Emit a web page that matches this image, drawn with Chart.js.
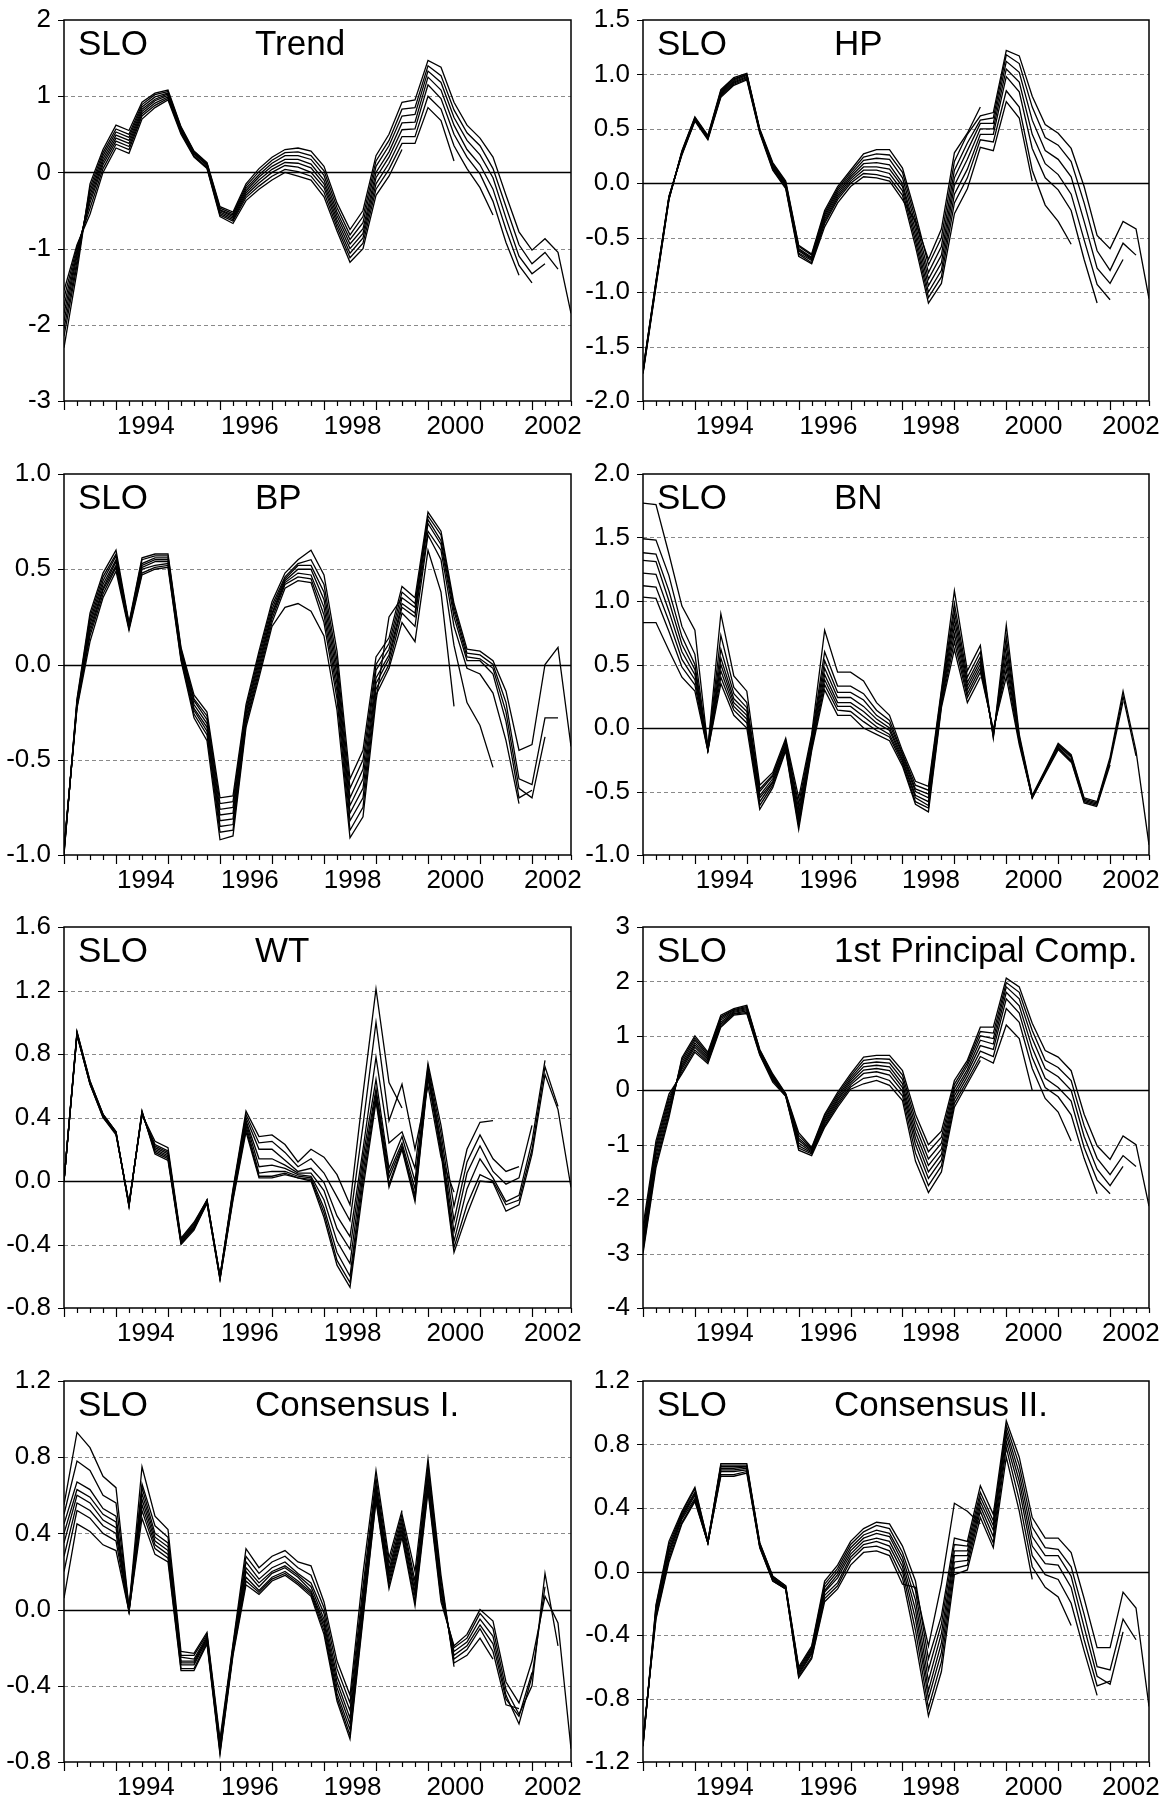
<!DOCTYPE html>
<html lang="en">
<head>
<meta charset="UTF-8">
<title>SLO - real-time output gap estimates</title>
<script src="https://cdn.jsdelivr.net/npm/chart.js@4"></script>
<style>
  * { margin: 0; padding: 0; box-sizing: border-box; }
  body { background: #fff; width: 1170px; height: 1798px; position: relative; overflow: hidden; }
  canvas { position: absolute; }
</style>
</head>
<body>
<script>
// x axis: quarters 1993Q1 .. 2002Q4 (index 0..39), year labels sit mid-year
const yearTickPos = [6.3, 14.3, 22.2, 30.1, 37.6];
const yearTickText = ['1994', '1996', '1998', '2000', '2002'];

// y tick values per panel
const trendTicks = [-3, -2, -1, 0, 1, 2];
const hpTicks = [-2, -1.5, -1, -0.5, 0, 0.5, 1, 1.5];
const bpTicks = [-1, -0.5, 0, 0.5, 1];
const bnTicks = [-1, -0.5, 0, 0.5, 1, 1.5, 2];
const wtTicks = [-0.8, -0.4, 0, 0.4, 0.8, 1.2, 1.6];
const pcTicks = [-4, -3, -2, -1, 0, 1, 2, 3];
const c1Ticks = [-0.8, -0.4, 0, 0.4, 0.8, 1.2];
const c2Ticks = [-1.2, -0.8, -0.4, 0, 0.4, 0.8, 1.2];

// vintages, named by last quarter of the sample they were estimated on
// Trend
const trend02q4 = [-2.3,-1.3,-0.15,0.3,0.62,0.55,0.92,1.04,1.08,0.6,0.28,0.13,-0.45,-0.52,-0.15,0.05,0.2,0.3,0.32,0.28,0.08,-0.4,-0.75,-0.5,0.22,0.5,0.92,0.95,1.47,1.38,0.92,0.62,0.45,0.2,-0.3,-0.78,-1.02,-0.87,-1.05,-1.85];
const trend02q3 = [-2.15,-1.22,-0.2,0.26,0.57,0.5,0.89,1.02,1.06,0.59,0.27,0.12,-0.47,-0.54,-0.18,0.01,0.16,0.26,0.27,0.22,0.02,-0.46,-0.82,-0.58,0.15,0.42,0.83,0.85,1.4,1.27,0.82,0.52,0.35,0.05,-0.45,-0.95,-1.2,-1.05,-1.27];
const trend02q2 = [-2.05,-1.16,-0.25,0.22,0.53,0.46,0.86,0.99,1.04,0.57,0.26,0.11,-0.49,-0.56,-0.21,-0.03,0.12,0.22,0.22,0.17,-0.04,-0.52,-0.88,-0.66,0.08,0.35,0.74,0.76,1.33,1.18,0.72,0.42,0.23,-0.07,-0.6,-1.1,-1.33,-1.2];
const trend02q1 = [-1.95,-1.1,-0.3,0.18,0.49,0.42,0.83,0.96,1.03,0.56,0.25,0.1,-0.5,-0.58,-0.24,-0.06,0.08,0.17,0.17,0.11,-0.1,-0.57,-0.94,-0.74,0.0,0.27,0.65,0.66,1.25,1.08,0.62,0.3,0.1,-0.22,-0.75,-1.22,-1.45];
const trend01q4 = [-1.85,-1.06,-0.35,0.14,0.45,0.38,0.8,0.94,1.01,0.55,0.24,0.09,-0.52,-0.6,-0.27,-0.1,0.04,0.13,0.12,0.06,-0.15,-0.62,-1.0,-0.8,-0.07,0.2,0.56,0.57,1.15,0.97,0.5,0.2,-0.02,-0.38,-0.92,-1.35];
const trend01q2 = [-1.75,-1.02,-0.4,0.1,0.41,0.34,0.77,0.91,0.99,0.53,0.22,0.07,-0.54,-0.62,-0.3,-0.14,0.0,0.09,0.07,0.0,-0.2,-0.67,-1.06,-0.86,-0.15,0.12,0.47,0.47,1.0,0.83,0.35,0.05,-0.2,-0.56];
const trend00q3 = [-1.65,-0.98,-0.47,0.05,0.37,0.3,0.74,0.88,0.97,0.52,0.21,0.06,-0.56,-0.64,-0.33,-0.18,-0.05,0.04,0.01,-0.05,-0.26,-0.72,-1.12,-0.93,-0.22,0.04,0.38,0.38,0.85,0.68,0.15];
const trend99q3 = [-1.55,-0.95,-0.55,0.0,0.32,0.25,0.7,0.85,0.95,0.5,0.2,0.05,-0.58,-0.67,-0.37,-0.22,-0.1,0.0,-0.05,-0.1,-0.32,-0.77,-1.18,-1.0,-0.3,-0.05,0.3];

// HP
const hp02q4 = [-1.75,-0.95,-0.15,0.3,0.61,0.44,0.86,0.97,1.01,0.5,0.19,0.02,-0.57,-0.65,-0.25,-0.03,0.12,0.27,0.31,0.31,0.14,-0.28,-0.75,-0.5,0.2,0.45,0.62,0.65,1.22,1.17,0.8,0.54,0.46,0.32,-0.03,-0.48,-0.6,-0.35,-0.42,-1.06];
const hp02q3 = [-1.74,-0.94,-0.15,0.29,0.6,0.43,0.85,0.96,1.0,0.49,0.18,0.01,-0.58,-0.66,-0.27,-0.05,0.1,0.24,0.27,0.26,0.1,-0.33,-0.82,-0.58,0.12,0.37,0.58,0.6,1.18,1.1,0.7,0.42,0.35,0.2,-0.18,-0.62,-0.8,-0.55,-0.66];
const hp02q2 = [-1.74,-0.93,-0.14,0.29,0.6,0.43,0.84,0.95,1.0,0.49,0.17,0.0,-0.6,-0.68,-0.29,-0.07,0.08,0.21,0.23,0.22,0.05,-0.38,-0.88,-0.66,0.05,0.3,0.55,0.55,1.12,1.02,0.58,0.3,0.22,0.06,-0.35,-0.78,-0.92,-0.7];
const hp02q1 = [-1.73,-0.92,-0.14,0.28,0.59,0.42,0.83,0.94,0.99,0.48,0.16,-0.01,-0.61,-0.69,-0.31,-0.09,0.06,0.18,0.19,0.17,0.0,-0.43,-0.94,-0.73,-0.02,0.22,0.5,0.5,1.05,0.93,0.45,0.18,0.08,-0.1,-0.52,-0.93,-1.07];
const hp01q4 = [-1.73,-0.92,-0.13,0.28,0.59,0.42,0.82,0.93,0.98,0.48,0.15,-0.02,-0.62,-0.7,-0.33,-0.11,0.04,0.15,0.15,0.13,-0.03,-0.48,-1.0,-0.8,-0.1,0.13,0.45,0.45,0.98,0.84,0.32,0.05,-0.06,-0.25,-0.7,-1.1];
const hp01q2 = [-1.72,-0.91,-0.13,0.27,0.58,0.41,0.81,0.92,0.97,0.47,0.14,-0.03,-0.64,-0.71,-0.35,-0.13,0.02,0.12,0.12,0.09,-0.07,-0.53,-1.05,-0.86,-0.18,0.05,0.4,0.38,0.85,0.7,0.12,-0.2,-0.35,-0.56];
const hp00q3 = [-1.72,-0.9,-0.12,0.27,0.58,0.41,0.8,0.91,0.96,0.47,0.13,-0.04,-0.65,-0.73,-0.37,-0.15,0.0,0.09,0.08,0.05,-0.11,-0.58,-1.1,-0.92,-0.28,-0.05,0.33,0.3,0.75,0.6,0.02];
const hp99q3 = [-1.71,-0.9,-0.12,0.26,0.57,0.4,0.79,0.9,0.95,0.46,0.12,-0.05,-0.67,-0.74,-0.4,-0.18,-0.03,0.06,0.05,0.02,-0.15,-0.35,-0.7,-0.42,0.28,0.46,0.7];

// BP
const bp02q4 = [-1.0,-0.18,0.27,0.48,0.6,0.22,0.56,0.58,0.58,0.09,-0.16,-0.25,-0.7,-0.69,-0.21,0.07,0.33,0.48,0.55,0.6,0.47,0.07,-0.6,-0.45,0.04,0.14,0.41,0.35,0.8,0.7,0.32,0.08,0.07,0.02,-0.14,-0.45,-0.42,0.0,0.09,-0.43];
const bp02q3 = [-0.99,-0.19,0.25,0.46,0.58,0.21,0.55,0.57,0.57,0.08,-0.18,-0.27,-0.73,-0.72,-0.23,0.05,0.31,0.46,0.53,0.55,0.42,0.02,-0.65,-0.5,0.0,0.11,0.38,0.32,0.78,0.68,0.3,0.06,0.05,0.0,-0.2,-0.6,-0.63,-0.28,-0.28];
const bp02q2 = [-0.99,-0.2,0.23,0.44,0.57,0.21,0.53,0.56,0.56,0.07,-0.19,-0.29,-0.76,-0.75,-0.25,0.03,0.29,0.45,0.52,0.52,0.38,-0.02,-0.7,-0.55,-0.03,0.08,0.35,0.3,0.76,0.65,0.28,0.04,0.03,-0.02,-0.25,-0.65,-0.7,-0.38];
const bp02q1 = [-0.98,-0.2,0.21,0.42,0.55,0.2,0.52,0.55,0.55,0.06,-0.21,-0.31,-0.79,-0.78,-0.26,0.01,0.27,0.44,0.5,0.5,0.34,-0.06,-0.74,-0.6,-0.07,0.05,0.32,0.27,0.74,0.63,0.25,0.02,0.02,-0.05,-0.3,-0.7,-0.66];
const bp01q4 = [-0.98,-0.21,0.19,0.4,0.54,0.2,0.51,0.54,0.54,0.05,-0.23,-0.33,-0.82,-0.81,-0.28,-0.01,0.26,0.43,0.48,0.47,0.3,-0.1,-0.78,-0.65,-0.1,0.03,0.3,0.25,0.7,0.6,0.2,-0.02,-0.05,-0.15,-0.4,-0.73];
const bp01q2 = [-0.97,-0.22,0.17,0.39,0.52,0.19,0.5,0.52,0.53,0.04,-0.24,-0.35,-0.85,-0.84,-0.3,-0.03,0.24,0.42,0.46,0.45,0.26,-0.14,-0.82,-0.7,-0.13,0.0,0.27,0.2,0.68,0.55,0.1,-0.2,-0.32,-0.54];
const bp00q3 = [-0.97,-0.22,0.15,0.37,0.51,0.19,0.48,0.51,0.52,0.03,-0.26,-0.37,-0.88,-0.87,-0.31,-0.05,0.22,0.4,0.44,0.43,0.22,-0.18,-0.87,-0.75,-0.16,-0.02,0.22,0.12,0.6,0.38,-0.22];
const bp99q3 = [-0.96,-0.23,0.12,0.35,0.49,0.18,0.47,0.5,0.51,0.02,-0.28,-0.4,-0.92,-0.9,-0.33,-0.07,0.2,0.3,0.32,0.28,0.15,-0.24,-0.91,-0.8,-0.19,0.25,0.35];

// BN
const bn02q4 = [1.77,1.76,1.37,0.96,0.77,-0.15,0.9,0.41,0.29,-0.45,-0.35,-0.08,-0.55,-0.05,0.77,0.44,0.44,0.37,0.2,0.1,-0.18,-0.42,-0.46,0.3,1.08,0.45,0.65,-0.08,0.81,-0.05,-0.53,-0.33,-0.12,-0.21,-0.55,-0.58,-0.23,0.29,-0.18,-0.92];
const bn02q3 = [1.49,1.48,1.2,0.8,0.58,-0.16,0.73,0.32,0.2,-0.48,-0.37,-0.1,-0.6,-0.07,0.6,0.33,0.33,0.27,0.14,0.06,-0.2,-0.45,-0.49,0.28,0.98,0.4,0.6,-0.07,0.72,-0.07,-0.54,-0.34,-0.13,-0.22,-0.56,-0.59,-0.25,0.25,-0.22];
const bn02q2 = [1.38,1.37,1.08,0.72,0.5,-0.16,0.62,0.27,0.16,-0.5,-0.38,-0.11,-0.64,-0.09,0.53,0.28,0.28,0.22,0.1,0.03,-0.21,-0.48,-0.52,0.26,0.92,0.36,0.56,-0.06,0.65,-0.08,-0.54,-0.34,-0.14,-0.23,-0.57,-0.6,-0.27,0.21];
const bn02q1 = [1.32,1.31,1.0,0.66,0.46,-0.17,0.55,0.23,0.13,-0.53,-0.4,-0.13,-0.68,-0.1,0.47,0.24,0.24,0.17,0.07,0.0,-0.23,-0.5,-0.55,0.24,0.86,0.33,0.53,-0.05,0.58,-0.09,-0.55,-0.35,-0.15,-0.25,-0.58,-0.61,-0.29];
const bn01q4 = [1.22,1.21,0.92,0.6,0.42,-0.17,0.5,0.2,0.1,-0.55,-0.42,-0.14,-0.71,-0.12,0.42,0.2,0.2,0.13,0.04,-0.02,-0.25,-0.53,-0.58,0.22,0.8,0.3,0.5,-0.04,0.52,-0.1,-0.55,-0.35,-0.16,-0.26,-0.59,-0.62];
const bn01q2 = [1.12,1.11,0.84,0.54,0.38,-0.17,0.45,0.17,0.07,-0.58,-0.43,-0.15,-0.74,-0.14,0.38,0.17,0.17,0.09,0.01,-0.05,-0.26,-0.55,-0.61,0.2,0.74,0.27,0.47,-0.02,0.46,-0.11,-0.55,-0.36,-0.17,-0.27];
const bn00q3 = [1.03,1.02,0.76,0.48,0.34,-0.18,0.4,0.14,0.04,-0.61,-0.45,-0.17,-0.77,-0.16,0.34,0.14,0.13,0.05,-0.02,-0.07,-0.28,-0.58,-0.63,0.18,0.68,0.24,0.44,-0.01,0.4,-0.13,-0.55];
const bn99q3 = [0.83,0.83,0.61,0.4,0.29,-0.18,0.35,0.1,0.0,-0.64,-0.47,-0.18,-0.8,-0.18,0.3,0.1,0.1,0.0,-0.05,-0.1,-0.3,-0.6,-0.66,0.16,0.62,0.2,0.4];

// WT
const wt02q4 = [0.0,0.94,0.63,0.42,0.31,-0.16,0.44,0.17,0.13,-0.4,-0.31,-0.14,-0.62,-0.12,0.31,0.02,0.02,0.04,0.02,0.0,-0.23,-0.53,-0.67,-0.05,0.5,-0.04,0.2,-0.13,0.65,0.18,-0.45,-0.21,0.0,-0.01,-0.19,-0.15,0.17,0.67,0.45,-0.04];
const wt02q3 = [0.0,0.94,0.63,0.42,0.31,-0.16,0.44,0.18,0.14,-0.39,-0.3,-0.14,-0.62,-0.11,0.33,0.03,0.03,0.05,0.02,0.01,-0.2,-0.5,-0.64,0.0,0.52,-0.02,0.21,-0.11,0.66,0.2,-0.42,-0.15,0.04,0.0,-0.15,-0.12,0.2,0.72,0.47];
const wt02q2 = [0.0,0.93,0.62,0.42,0.31,-0.15,0.43,0.19,0.15,-0.39,-0.3,-0.13,-0.61,-0.1,0.35,0.05,0.06,0.06,0.03,0.02,-0.17,-0.45,-0.6,0.05,0.55,0.02,0.22,-0.09,0.68,0.22,-0.38,-0.05,0.14,0.02,-0.13,-0.09,0.25,0.76];
const wt02q1 = [0.0,0.93,0.62,0.41,0.3,-0.15,0.43,0.2,0.16,-0.38,-0.29,-0.13,-0.61,-0.09,0.37,0.09,0.1,0.08,0.04,0.03,-0.12,-0.38,-0.52,0.1,0.58,0.05,0.24,-0.05,0.7,0.25,-0.32,0.05,0.22,0.06,-0.02,0.02,0.35];
const wt01q4 = [0.0,0.93,0.62,0.41,0.3,-0.15,0.43,0.21,0.17,-0.38,-0.29,-0.13,-0.61,-0.08,0.38,0.14,0.14,0.1,0.05,0.05,-0.06,-0.3,-0.43,0.15,0.64,0.08,0.28,0.0,0.72,0.3,-0.25,0.12,0.29,0.14,0.06,0.09];
const wt01q2 = [0.0,0.92,0.61,0.41,0.3,-0.15,0.42,0.22,0.18,-0.37,-0.28,-0.12,-0.6,-0.07,0.4,0.2,0.2,0.13,0.06,0.08,-0.01,-0.22,-0.35,0.2,0.78,0.24,0.31,0.08,0.74,0.35,-0.16,0.2,0.37,0.38];
const wt00q3 = [0.0,0.92,0.61,0.4,0.3,-0.14,0.42,0.23,0.19,-0.37,-0.27,-0.12,-0.6,-0.06,0.42,0.24,0.25,0.18,0.09,0.14,0.05,-0.1,-0.25,0.35,1.0,0.38,0.61,0.2,0.6,0.15,-0.07];
const wt99q3 = [0.0,0.92,0.61,0.4,0.29,-0.14,0.42,0.25,0.21,-0.36,-0.26,-0.12,-0.6,-0.05,0.44,0.28,0.29,0.23,0.12,0.2,0.15,0.04,-0.15,0.55,1.21,0.62,0.46];

// 1st principal component
const pc02q4 = [-3.0,-1.42,-0.5,0.6,1.0,0.7,1.38,1.5,1.56,0.75,0.3,-0.06,-0.78,-1.05,-0.44,-0.04,0.3,0.61,0.64,0.64,0.36,-0.44,-1.0,-0.75,0.18,0.55,1.16,1.16,2.06,1.9,1.23,0.73,0.61,0.36,-0.44,-1.02,-1.27,-0.84,-1.0,-2.13];
const pc02q3 = [-2.95,-1.35,-0.44,0.56,0.96,0.67,1.35,1.48,1.54,0.74,0.28,-0.07,-0.83,-1.07,-0.47,-0.08,0.26,0.55,0.58,0.57,0.28,-0.55,-1.13,-0.86,0.11,0.5,1.08,1.05,1.98,1.8,1.1,0.55,0.42,0.18,-0.65,-1.25,-1.55,-1.2,-1.4];
const pc02q2 = [-2.9,-1.28,-0.38,0.51,0.92,0.64,1.32,1.47,1.52,0.72,0.26,-0.08,-0.88,-1.09,-0.51,-0.12,0.22,0.49,0.52,0.5,0.2,-0.66,-1.26,-0.97,0.04,0.45,1.0,0.95,1.9,1.68,0.95,0.4,0.25,0.0,-0.85,-1.45,-1.75,-1.4];
const pc02q1 = [-2.85,-1.2,-0.31,0.47,0.87,0.61,1.29,1.45,1.5,0.71,0.24,-0.08,-0.92,-1.11,-0.54,-0.16,0.18,0.43,0.46,0.43,0.12,-0.77,-1.38,-1.08,-0.03,0.38,0.92,0.85,1.8,1.55,0.78,0.22,0.05,-0.2,-1.05,-1.65,-1.9];
const pc01q4 = [-2.78,-1.13,-0.25,0.43,0.83,0.58,1.25,1.43,1.48,0.69,0.22,-0.09,-0.97,-1.13,-0.58,-0.19,0.14,0.37,0.4,0.36,0.05,-0.88,-1.5,-1.18,-0.1,0.32,0.82,0.75,1.68,1.42,0.6,0.05,-0.12,-0.45,-1.25,-1.9];
const pc01q2 = [-2.7,-1.06,-0.19,0.39,0.79,0.55,1.22,1.41,1.46,0.68,0.2,-0.1,-1.02,-1.15,-0.61,-0.23,0.1,0.31,0.34,0.28,-0.02,-1.0,-1.62,-1.28,-0.17,0.25,0.72,0.62,1.5,1.25,0.4,-0.15,-0.4,-0.93];
const pc00q3 = [-2.6,-1.0,-0.13,0.34,0.74,0.52,1.19,1.4,1.43,0.66,0.18,-0.1,-1.06,-1.17,-0.65,-0.27,0.06,0.22,0.26,0.18,-0.1,-1.15,-1.75,-1.39,-0.24,0.18,0.62,0.5,1.2,0.95,0.0];
const pc99q3 = [-2.5,-0.93,-0.07,0.3,0.7,0.49,1.16,1.38,1.41,0.65,0.15,-0.11,-1.1,-1.2,-0.68,-0.31,0.02,0.12,0.18,0.09,-0.19,-1.3,-1.88,-1.5,-0.31,0.12,0.55];

// Consensus I.
const c1_02q4 = [0.06,0.45,0.41,0.34,0.31,-0.01,0.48,0.29,0.25,-0.32,-0.32,-0.18,-0.76,-0.24,0.13,0.08,0.15,0.18,0.13,0.07,-0.13,-0.48,-0.68,-0.05,0.57,0.11,0.38,0.02,0.62,0.04,-0.19,-0.13,0.0,-0.06,-0.38,-0.49,-0.27,0.07,-0.07,-0.73];
const c1_02q3 = [0.2,0.52,0.48,0.4,0.36,-0.01,0.52,0.32,0.27,-0.31,-0.31,-0.17,-0.75,-0.23,0.15,0.09,0.16,0.19,0.14,0.08,-0.11,-0.46,-0.66,-0.03,0.58,0.13,0.4,0.04,0.64,0.06,-0.2,-0.15,-0.02,-0.1,-0.42,-0.55,-0.4,0.19,-0.19];
const c1_02q2 = [0.28,0.56,0.52,0.44,0.4,-0.01,0.55,0.34,0.29,-0.29,-0.29,-0.16,-0.74,-0.22,0.17,0.1,0.17,0.2,0.15,0.09,-0.09,-0.44,-0.63,-0.01,0.6,0.15,0.42,0.07,0.67,0.08,-0.22,-0.17,-0.05,-0.14,-0.45,-0.6,-0.35,0.12];
const c1_02q1 = [0.35,0.6,0.56,0.47,0.43,0.0,0.58,0.36,0.31,-0.28,-0.28,-0.15,-0.73,-0.22,0.2,0.12,0.19,0.22,0.17,0.1,-0.07,-0.41,-0.6,0.02,0.62,0.17,0.44,0.09,0.7,0.1,-0.24,-0.19,-0.08,-0.18,-0.47,-0.56,-0.33];
const c1_01q4 = [0.4,0.63,0.59,0.5,0.46,0.0,0.61,0.38,0.33,-0.27,-0.27,-0.15,-0.72,-0.21,0.22,0.14,0.2,0.23,0.18,0.12,-0.05,-0.38,-0.57,0.05,0.64,0.19,0.46,0.12,0.73,0.12,-0.26,-0.21,-0.1,-0.22,-0.5,-0.52];
const c1_01q2 = [0.45,0.67,0.63,0.53,0.49,0.0,0.64,0.4,0.35,-0.25,-0.26,-0.14,-0.71,-0.2,0.25,0.16,0.22,0.25,0.19,0.14,-0.02,-0.35,-0.53,0.08,0.66,0.21,0.48,0.15,0.76,0.15,-0.28,-0.24,-0.15,-0.26];
const c1_00q3 = [0.5,0.78,0.73,0.6,0.56,0.01,0.66,0.44,0.38,-0.24,-0.24,-0.13,-0.7,-0.19,0.28,0.19,0.25,0.28,0.22,0.18,0.01,-0.31,-0.49,0.12,0.69,0.24,0.5,0.2,0.79,0.18,-0.3];
const c1_99q3 = [0.55,0.93,0.85,0.7,0.64,0.01,0.75,0.49,0.42,-0.22,-0.23,-0.12,-0.68,-0.18,0.32,0.22,0.28,0.31,0.25,0.23,0.04,-0.27,-0.45,0.19,0.73,0.27,0.52];

// Consensus II.
const c2_02q4 = [-1.1,-0.21,0.19,0.38,0.53,0.19,0.68,0.68,0.68,0.18,-0.03,-0.09,-0.6,-0.47,-0.06,0.04,0.19,0.27,0.31,0.3,0.16,-0.06,-0.55,-0.28,0.21,0.19,0.54,0.36,0.95,0.72,0.34,0.21,0.21,0.12,-0.17,-0.48,-0.48,-0.13,-0.23,-0.85];
const c2_02q3 = [-1.1,-0.22,0.17,0.37,0.52,0.19,0.67,0.67,0.67,0.18,-0.03,-0.09,-0.61,-0.48,-0.08,0.02,0.17,0.25,0.29,0.27,0.12,-0.12,-0.62,-0.33,0.17,0.16,0.5,0.32,0.92,0.67,0.28,0.15,0.14,0.03,-0.27,-0.6,-0.62,-0.3,-0.43];
const c2_02q2 = [-1.09,-0.24,0.15,0.36,0.5,0.19,0.66,0.66,0.66,0.17,-0.04,-0.1,-0.62,-0.49,-0.1,0.0,0.15,0.23,0.26,0.24,0.09,-0.18,-0.69,-0.39,0.13,0.13,0.47,0.29,0.89,0.62,0.22,0.1,0.1,-0.03,-0.35,-0.66,-0.71,-0.38];
const c2_02q1 = [-1.09,-0.25,0.13,0.35,0.49,0.18,0.65,0.65,0.66,0.17,-0.04,-0.1,-0.63,-0.5,-0.12,-0.02,0.13,0.21,0.24,0.22,0.06,-0.24,-0.75,-0.45,0.1,0.1,0.44,0.26,0.86,0.57,0.16,0.05,0.04,-0.1,-0.43,-0.72,-0.69];
const c2_01q4 = [-1.08,-0.26,0.12,0.34,0.48,0.18,0.64,0.64,0.65,0.16,-0.05,-0.1,-0.64,-0.51,-0.13,-0.04,0.11,0.19,0.21,0.19,0.03,-0.3,-0.8,-0.51,0.06,0.07,0.41,0.22,0.82,0.52,0.1,-0.02,-0.05,-0.2,-0.5,-0.78];
const c2_01q2 = [-1.07,-0.27,0.1,0.33,0.46,0.18,0.63,0.63,0.64,0.16,-0.05,-0.11,-0.65,-0.52,-0.15,-0.07,0.09,0.17,0.19,0.16,0.0,-0.37,-0.86,-0.57,0.02,0.04,0.38,0.18,0.78,0.45,0.03,-0.1,-0.16,-0.34];
const c2_00q3 = [-1.06,-0.29,0.08,0.31,0.45,0.18,0.61,0.61,0.63,0.15,-0.06,-0.11,-0.66,-0.54,-0.17,-0.09,0.07,0.15,0.16,0.13,-0.04,-0.44,-0.91,-0.63,-0.02,0.01,0.34,0.15,0.72,0.38,-0.05];
const c2_99q3 = [-1.05,-0.3,0.06,0.3,0.44,0.18,0.6,0.6,0.62,0.15,-0.06,-0.11,-0.67,-0.55,-0.19,-0.11,0.04,0.12,0.13,0.1,-0.08,-0.1,-0.47,-0.08,0.43,0.38,0.3];

const nQuarters = 40;

// panel grid (page pixels): canvas left/width per column, canvas top per row
const colLeft = [0, 582];
const colWidth = [582, 588];
const rowTop = [0, 454, 907, 1361];
const axisWidth = [64, 61];
const rightPad = [11, 21];

const panels = [
  { name: 'Trend', col: 0, row: 0, ticks: trendTicks, dec: 0,
    lines: [trend99q3, trend00q3, trend01q2, trend01q4, trend02q1, trend02q2, trend02q3, trend02q4] },
  { name: 'HP', col: 1, row: 0, ticks: hpTicks, dec: 1,
    lines: [hp99q3, hp00q3, hp01q2, hp01q4, hp02q1, hp02q2, hp02q3, hp02q4] },
  { name: 'BP', col: 0, row: 1, ticks: bpTicks, dec: 1,
    lines: [bp99q3, bp00q3, bp01q2, bp01q4, bp02q1, bp02q2, bp02q3, bp02q4] },
  { name: 'BN', col: 1, row: 1, ticks: bnTicks, dec: 1,
    lines: [bn99q3, bn00q3, bn01q2, bn01q4, bn02q1, bn02q2, bn02q3, bn02q4] },
  { name: 'WT', col: 0, row: 2, ticks: wtTicks, dec: 1,
    lines: [wt99q3, wt00q3, wt01q2, wt01q4, wt02q1, wt02q2, wt02q3, wt02q4] },
  { name: '1st Principal Comp.', col: 1, row: 2, ticks: pcTicks, dec: 0,
    lines: [pc99q3, pc00q3, pc01q2, pc01q4, pc02q1, pc02q2, pc02q3, pc02q4] },
  { name: 'Consensus I.', col: 0, row: 3, ticks: c1Ticks, dec: 1,
    lines: [c1_99q3, c1_00q3, c1_01q2, c1_01q4, c1_02q1, c1_02q2, c1_02q3, c1_02q4] },
  { name: 'Consensus II.', col: 1, row: 3, ticks: c2Ticks, dec: 1,
    lines: [c2_99q3, c2_00q3, c2_01q2, c2_01q4, c2_02q1, c2_02q2, c2_02q3, c2_02q4] }
];

Chart.defaults.font.family = 'Arial, "Liberation Sans", sans-serif';
Chart.defaults.color = '#000';

// EViews style frame: dashed grid, solid zero line, box, tick marks, panel titles
const frame = {
  id: 'frame',
  beforeDatasetsDraw(chart) {
    const { ctx, chartArea: a, scales: { y } } = chart;
    ctx.save();
    y.ticks.forEach(t => {
      if (t.value <= y.min + 1e-9 || t.value >= y.max - 1e-9) return;
      const py = Math.round(y.getPixelForValue(t.value)) + 0.5;
      const zero = Math.abs(t.value) < 1e-9;
      ctx.beginPath();
      ctx.setLineDash(zero ? [] : [4, 3]);
      ctx.strokeStyle = zero ? '#000' : '#8a8a8a';
      ctx.lineWidth = zero ? 1.3 : 1;
      ctx.moveTo(a.left, py);
      ctx.lineTo(a.right, py);
      ctx.stroke();
    });
    ctx.restore();
  },
  afterDatasetsDraw(chart, args, opts) {
    const { ctx, chartArea: a, scales: { x, y } } = chart;
    ctx.save();
    ctx.strokeStyle = '#000';
    ctx.lineWidth = 1.5;
    ctx.strokeRect(a.left, a.top, a.right - a.left, a.bottom - a.top);
    ctx.lineWidth = 1.2;
    ctx.beginPath();
    for (let k = 0; k < nQuarters; k++) {
      const px = Math.round(x.getPixelForValue(k)) + 0.5;
      ctx.moveTo(px, a.bottom);
      ctx.lineTo(px, a.bottom + (k % 4 === 0 ? 9 : 5));
    }
    y.ticks.forEach(t => {
      const py = Math.round(y.getPixelForValue(t.value)) + 0.5;
      ctx.moveTo(a.left - 6, py);
      ctx.lineTo(a.left, py);
    });
    ctx.stroke();
    ctx.fillStyle = '#000';
    ctx.font = '35px Arial, "Liberation Sans", sans-serif';
    ctx.fillText('SLO', a.left + 14, a.top + 35);
    ctx.fillText(opts.name, a.left + 191, a.top + 35);
    ctx.restore();
  }
};

panels.forEach(p => {
  const cv = document.createElement('canvas');
  cv.width = colWidth[p.col];
  cv.height = 437;
  cv.style.left = colLeft[p.col] + 'px';
  cv.style.top = rowTop[p.row] + 'px';
  document.body.appendChild(cv);

  new Chart(cv, {
    type: 'line',
    data: {
      datasets: p.lines.map(v => ({
        data: v.map((val, i) => ({ x: i, y: val })),
        borderColor: '#000',
        borderWidth: 1.3,
        pointRadius: 0,
        tension: 0,
        fill: false
      }))
    },
    options: {
      responsive: false,
      animation: false,
      events: [],
      layout: { padding: { left: 0, top: 20, right: rightPad[p.col], bottom: 0 } },
      plugins: {
        legend: { display: false },
        tooltip: { enabled: false },
        frame: { name: p.name }
      },
      scales: {
        x: {
          type: 'linear',
          min: 0,
          max: nQuarters - 1,
          grid: { display: false, drawTicks: false },
          border: { display: false },
          afterBuildTicks: s => { s.ticks = yearTickPos.map(v => ({ value: v })); },
          afterFit: s => { s.height = 36; s.paddingLeft = 0; s.paddingRight = 0; },
          ticks: {
            autoSkip: false, maxRotation: 0, minRotation: 0, padding: 10,
            font: { size: 26 },
            callback: v => yearTickText[yearTickPos.indexOf(v)] || ''
          }
        },
        y: {
          min: p.ticks[0],
          max: p.ticks[p.ticks.length - 1],
          grid: { display: false, drawTicks: false },
          border: { display: false },
          afterBuildTicks: s => { s.ticks = p.ticks.map(v => ({ value: v })); },
          afterFit: s => { s.width = axisWidth[p.col]; s.paddingTop = 0; s.paddingBottom = 0; },
          ticks: {
            padding: 13,
            font: { size: 26 },
            callback: v => (Math.abs(v) < 1e-9 ? 0 : v).toFixed(p.dec)
          }
        }
      }
    },
    plugins: [frame]
  });
});
</script>
</body>
</html>
